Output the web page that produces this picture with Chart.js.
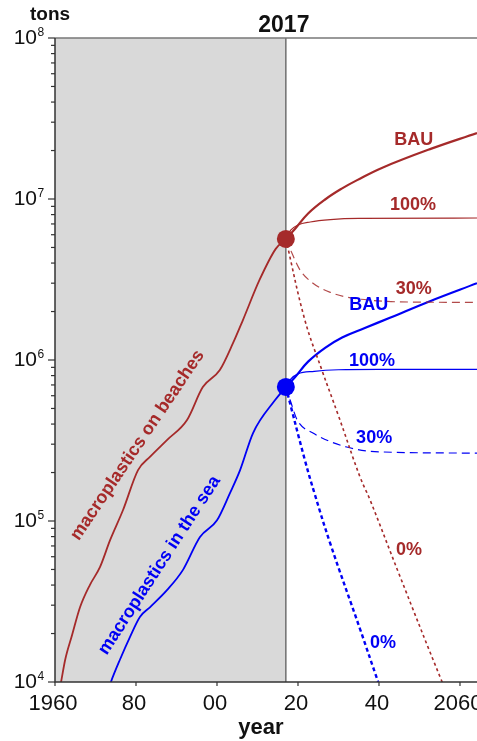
<!DOCTYPE html>
<html>
<head>
<meta charset="utf-8">
<script src="https://cdn.jsdelivr.net/npm/chart.js@4/dist/chart.umd.min.js"></script>
<style>
  html, body { margin: 0; padding: 0; background: #fff; }
  canvas { display: block; }
</style>
</head>
<body>
<canvas id="c" width="477" height="741"></canvas>
<script>
const FONT = '"Liberation Sans", Arial, Helvetica, sans-serif';
const BROWN = '#a52a2a';
const BLUE = '#0000f5';

// Axes
const refYear = 2017;
const xMin = 1960;
const xMax = 2064.2;
const xTickYears = [1960, 1980, 2000, 2020, 2040, 2060];
const xTickLabels = ['1960', '80', '00', '20', '40', '2060'];
const yDecadeExponents = [4, 5, 6, 7, 8];

// Historical stocks (tons)
const beachHistYears = [1960.5, 1961.5, 1962.5, 1964.2, 1966.2, 1968.6, 1971.1, 1973.6, 1976.8, 1980.5, 1983.5, 1987.7, 1992.6, 1996.5, 2000.7, 2004.0, 2006.4, 2010.5, 2014.5, 2017];
const beachHistTons  = [7.5e3, 1.0e4, 1.37e4, 1.95e4, 2.92e4, 4.0e4, 5.17e4, 7.6e4, 1.17e5, 2.07e5, 2.51e5, 3.19e5, 4.24e5, 6.79e5, 8.66e5, 1.28e6, 1.77e6, 3.14e6, 4.9e6, 5.65e6];

const seaHistYears = [1972.5, 1973.8, 1976.0, 1978.5, 1981.0, 1983.5, 1987.7, 1991.6, 1995.8, 2000.0, 2003.2, 2005.7, 2008.9, 2014.3, 2017];
const seaHistTons  = [8.0e3, 1.0e4, 1.37e4, 1.9e4, 2.54e4, 2.92e4, 3.73e4, 4.97e4, 7.95e4, 1.01e5, 1.49e5, 2.07e5, 3.52e5, 5.62e5, 6.8e5];

// Scenarios: beaches
const beachBauYears = [2017, 2019.3, 2022.5, 2026.7, 2030.9, 2034.6, 2040.7, 2052.6, 2064.2];
const beachBauTons  = [5.65e6, 6.53e6, 8.13e6, 9.93e6, 1.164e7, 1.31e7, 1.56e7, 2.04e7, 2.57e7];
const beach100Years = [2017, 2018.2, 2020, 2023, 2028, 2035, 2064.2];
const beach100Tons  = [5.65e6, 6.4e6, 6.9e6, 7.2e6, 7.45e6, 7.58e6, 7.62e6];
const beach30Years  = [2017, 2018.2, 2020.5, 2023.7, 2028, 2032, 2038, 2044, 2064.2];
const beach30Tons   = [5.65e6, 4.8e6, 3.62e6, 3.0e6, 2.63e6, 2.46e6, 2.35e6, 2.3e6, 2.28e6];
const beach0Years   = [2017, 2021.7, 2025.9, 2030, 2035.3, 2037.8, 2045, 2055.6, 2060];
const beach0Tons    = [5.65e6, 1.77e6, 8.66e5, 4.5e5, 1.88e5, 1.35e5, 4.65e4, 1.0e4, 5.6e3];

// Scenarios: sea
const seaBauYears = [2017, 2019.3, 2022.5, 2026.7, 2030.9, 2036.5, 2042.7, 2052.6, 2064.2];
const seaBauTons  = [6.8e5, 7.85e5, 9.77e5, 1.19e6, 1.38e6, 1.58e6, 1.83e6, 2.32e6, 3.0e6];
const sea100Years = [2017, 2018.2, 2020, 2024, 2030, 2040, 2064.2];
const sea100Tons  = [6.8e5, 7.6e5, 8.2e5, 8.5e5, 8.7e5, 8.75e5, 8.75e5];
const sea30Years  = [2017, 2018.2, 2019.8, 2023.7, 2032, 2040, 2064.2];
const sea30Tons   = [6.8e5, 5.5e5, 4.24e5, 3.52e5, 2.88e5, 2.69e5, 2.64e5];
const sea0Years   = [2017, 2021.7, 2024.2, 2028, 2035.3, 2039.8, 2042];
const sea0Tons    = [6.8e5, 2.39e5, 1.45e5, 7.2e4, 2.14e4, 1.0e4, 7.0e3];

// Scenario labels, anchored in data space
const curveLabels = [
  { text: 'BAU',  year: 2048.6, tons: 2.32e7, color: BROWN },
  { text: '100%', year: 2048.4, tons: 9.18e6, color: BROWN },
  { text: '30%',  year: 2048.6, tons: 2.76e6, color: BROWN },
  { text: '0%',   year: 2047.4, tons: 6.6e4,  color: BROWN },
  { text: 'BAU',  year: 2037.5, tons: 2.2e6,  color: BLUE },
  { text: '100%', year: 2038.3, tons: 9.86e5, color: BLUE },
  { text: '30%',  year: 2038.8, tons: 3.28e5, color: BLUE },
  { text: '0%',   year: 2041.0, tons: 1.75e4, color: BLUE }
];
const seriesLabels = [
  { text: 'macroplastics on beaches', year: 1980.4, tons: 2.96e5, angle: -56, color: BROWN },
  { text: 'macroplastics in the sea', year: 1985.8, tons: 5.3e4, angle: -57, color: BLUE }
];

const pts = (xs, ys) => xs.map((x, i) => ({ x, y: ys[i] }));

function line(data, color, width, dash, smooth) {
  const ds = {
    data, borderColor: color, borderWidth: width, borderDash: dash || [],
    showLine: true, pointRadius: 0, pointHoverRadius: 0, fill: false, order: 2
  };
  if (smooth) ds.tension = 0.4;
  else ds.cubicInterpolationMode = 'monotone';
  return ds;
}

const datasets = [
  {
    data: [{ x: refYear, y: beachHistTons[beachHistTons.length - 1] }],
    backgroundColor: BROWN, borderWidth: 0, pointRadius: 9, order: 0
  },
  {
    data: [{ x: refYear, y: seaHistTons[seaHistTons.length - 1] }],
    backgroundColor: BLUE, borderWidth: 0, pointRadius: 9, order: 0
  },
  line(pts(beachHistYears, beachHistTons), BROWN, 1.8),
  line(pts(beachBauYears, beachBauTons), BROWN, 2.2, null, true),
  line(pts(beach100Years, beach100Tons), BROWN, 1.2),
  line(pts(beach30Years, beach30Tons), 'rgba(165,42,42,0.85)', 1.2, [8, 5]),
  line(pts(beach0Years, beach0Tons), BROWN, 1.6, [3, 3], true),
  line(pts(seaHistYears, seaHistTons), BLUE, 1.8),
  line(pts(seaBauYears, seaBauTons), BLUE, 2.2, null, true),
  line(pts(sea100Years, sea100Tons), BLUE, 1.2),
  line(pts(sea30Years, sea30Tons), BLUE, 1.2, [8, 5]),
  line(pts(sea0Years, sea0Tons), BLUE, 2.4, [4, 3], true)
];

const decor = {
  id: 'decor',
  beforeDatasetsDraw(chart) {
    const { ctx, chartArea: a, scales: { x } } = chart;
    const xr = x.getPixelForValue(refYear);
    ctx.save();
    ctx.fillStyle = '#d9d9d9';
    ctx.fillRect(a.left, a.top, xr - a.left, a.bottom - a.top);
    ctx.strokeStyle = '#707070';
    ctx.lineWidth = 1.5;
    ctx.beginPath();
    ctx.moveTo(xr, a.top);
    ctx.lineTo(xr, a.bottom);
    ctx.stroke();
    ctx.restore();
  },
  afterDraw(chart) {
    const { ctx, chartArea: a, scales: { x, y } } = chart;
    ctx.save();

    // frame
    ctx.lineWidth = 1.5;
    ctx.strokeStyle = '#777';
    ctx.beginPath(); ctx.moveTo(a.left, a.top); ctx.lineTo(a.right, a.top); ctx.stroke();
    ctx.strokeStyle = '#333';
    ctx.beginPath(); ctx.moveTo(a.left, a.top); ctx.lineTo(a.left, a.bottom); ctx.lineTo(a.right, a.bottom); ctx.stroke();

    // y ticks (log, decades + 2..9 minors)
    ctx.lineWidth = 1.2;
    ctx.strokeStyle = '#333';
    const top = Math.pow(10, yDecadeExponents[yDecadeExponents.length - 1]);
    yDecadeExponents.forEach(e => {
      for (let m = 1; m <= 9; m++) {
        const v = m * Math.pow(10, e);
        if (v > top) break;
        const py = y.getPixelForValue(v);
        const len = m === 1 ? 7 : 4;
        ctx.beginPath(); ctx.moveTo(a.left - len, py); ctx.lineTo(a.left, py); ctx.stroke();
      }
    });
    // y tick labels: 10^n
    ctx.fillStyle = '#111';
    yDecadeExponents.forEach(e => {
      const py = y.getPixelForValue(Math.pow(10, e));
      ctx.textAlign = 'right';
      ctx.textBaseline = 'alphabetic';
      ctx.font = '21px ' + FONT;
      ctx.fillText('10', 37, py + 6);
      ctx.textAlign = 'left';
      ctx.font = '12px ' + FONT;
      ctx.fillText(String(e), 37.5, py - 2);
    });

    // x ticks and labels
    ctx.textAlign = 'center';
    ctx.textBaseline = 'alphabetic';
    ctx.font = '22px ' + FONT;
    xTickYears.forEach((yr, i) => {
      const px = x.getPixelForValue(yr);
      ctx.beginPath(); ctx.moveTo(px, a.bottom); ctx.lineTo(px, a.bottom + 4); ctx.stroke();
      ctx.fillText(xTickLabels[i], px - 2, a.bottom + 28);
    });

    // titles
    ctx.font = 'bold 22px ' + FONT;
    ctx.fillText('year', 261, a.bottom + 52);
    ctx.font = 'bold 23px ' + FONT;
    ctx.fillText(String(refYear), x.getPixelForValue(refYear) - 2, 32);
    ctx.font = 'bold 19px ' + FONT;
    ctx.fillText('tons', 50, 20);

    // scenario labels
    ctx.font = 'bold 18px ' + FONT;
    ctx.textBaseline = 'middle';
    curveLabels.forEach(l => {
      ctx.fillStyle = l.color;
      ctx.fillText(l.text, x.getPixelForValue(l.year), y.getPixelForValue(l.tons));
    });

    // rotated series labels
    seriesLabels.forEach(l => {
      ctx.save();
      ctx.translate(x.getPixelForValue(l.year), y.getPixelForValue(l.tons));
      ctx.rotate(l.angle * Math.PI / 180);
      ctx.fillStyle = l.color;
      ctx.fillText(l.text, 0, 0);
      ctx.restore();
    });

    ctx.restore();
  }
};

new Chart(document.getElementById('c'), {
  type: 'scatter',
  data: { datasets },
  options: {
    responsive: false,
    devicePixelRatio: 1,
    animation: false,
    layout: { autoPadding: false, padding: { left: 55, right: 0, top: 38, bottom: 59 } },
    plugins: { legend: { display: false }, tooltip: { enabled: false } },
    scales: {
      x: { type: 'linear', min: xMin, max: xMax, display: false },
      y: { type: 'logarithmic', min: 1e4, max: 1e8, display: false }
    }
  },
  plugins: [decor]
});
</script>
</body>
</html>
